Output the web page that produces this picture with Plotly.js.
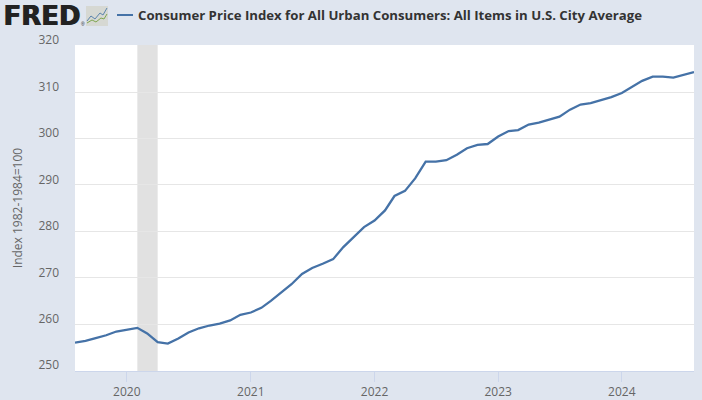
<!DOCTYPE html>
<html><head><meta charset="utf-8">
<script src="https://cdn.plot.ly/plotly-3.0.1.min.js"></script>
<style>html,body{margin:0;padding:0;background:#dfe5ef}#c{width:702px;height:400px}</style>
</head><body><div id="c"></div>
<script>
const seriesName = "Consumer Price Index for All Urban Consumers: All Items in U.S. City Average";
const yAxisTitle = "Index 1982-1984=100";
const recession = ["2020-02-01", "2020-04-01"];
const cpi2019 = [256.0,256.4,257.0,257.6,258.4];
const cpi2020 = [258.8,259.2,258.0,256.1,255.8,256.9,258.2,259.1,259.7,260.1,260.8,262.0];
const cpi2021 = [262.5,263.5,265.0,266.8,268.6,270.8,272.1,273.0,274.0,276.6,278.9,280.9];
const cpi2022 = [282.3,284.5,287.6,288.7,291.4,295.0,295.0,295.3,296.5,297.9,298.6,298.8];
const cpi2023 = [300.4,301.6,301.8,303.0,303.4,304.0,304.7,306.2,307.3,307.6,308.2,308.9];
const cpi2024 = [309.8,311.2,312.4,313.3,313.3,313.1,313.7,314.3];
const yTicks = [250,260,270,280,290,300,310,320];
const xTickVals = ["2020-01-01","2021-01-01","2022-01-01","2023-01-01","2024-01-01"];
const xTickText = ["2020","2021","2022","2023","2024"];

const values = [...cpi2019,...cpi2020,...cpi2021,...cpi2022,...cpi2023,...cpi2024];
const dates = values.map((_,i)=>{
  const m = 7+i; const y = 2019+Math.floor(m/12); const mm = String(m%12+1).padStart(2,"0");
  return y+"-"+mm+"-01";
});
const W=702,H=400,L=75,R=694,T=45,B=371;
const px=x=>(x-L)/(R-L), py=y=>(B-y)/(B-T);
const pathOf=pts=>pts.map((p,i)=>(i?"L":"M")+px(p[0]).toFixed(4)+","+py(p[1]).toFixed(4)).join(" ");
const deco=(pts,color,w)=>({type:"path",xref:"paper",yref:"paper",path:pathOf(pts),line:{color:color,width:w},layer:"above"});
const font="'Open Sans', sans-serif";

const shapes=[
 {type:"rect",xref:"x",yref:"paper",x0:recession[0],x1:recession[1],y0:0,y1:1,fillcolor:"#e1e1e1",line:{width:0},layer:"below"},
 {type:"rect",xref:"paper",yref:"paper",x0:px(86),x1:px(108),y0:py(26),y1:py(6),fillcolor:"#d6d8d3",line:{width:0},layer:"above"},
 deco([[87,21],[91,16],[95,19],[100,13],[103,15],[107,8]],"#5b84ad",1),
 deco([[87,23],[92,20],[96,22],[101,18],[104,19],[107,14]],"#7fa650",1),
 {type:"line",xref:"paper",yref:"paper",x0:px(117),x1:px(133),y0:py(15),y1:py(15),line:{color:"#4572a7",width:2},layer:"above"}
];
const annotations=[
 {xref:"paper",yref:"paper",x:px(1),y:py(16.5),xanchor:"left",yanchor:"middle",showarrow:false,
  text:"<b>FRED</b>",font:{family:"'DejaVu Sans', sans-serif",size:26,color:"#222222",shadow:"1px 0 0 #222222"}},
 {xref:"paper",yref:"paper",x:px(79),y:py(24),xanchor:"left",yanchor:"middle",showarrow:false,
  text:"®",font:{family:"'Liberation Sans', sans-serif",size:5,color:"#222222"}},
 {xref:"paper",yref:"paper",x:px(136),y:py(15),xanchor:"left",yanchor:"middle",showarrow:false,
  text:"<b>"+seriesName+"</b>",font:{family:font,size:13.2,color:"#333333"}}
];
Plotly.newPlot("c",[{
  type:"scatter",mode:"lines",name:seriesName,x:dates,y:values,
  line:{color:"#4572a7",width:2.3},hoverinfo:"x+y"
}],{
  width:W,height:H,paper_bgcolor:"#dfe5ef",plot_bgcolor:"#ffffff",
  margin:{l:L,r:W-R,t:T,b:H-B,pad:0},showlegend:false,
  font:{family:font,size:12,color:"#666666"},
  xaxis:{type:"date",range:[dates[0],dates[dates.length-1]],tickmode:"array",tickvals:xTickVals,ticktext:xTickText,
    showgrid:false,zeroline:false,showline:true,linecolor:"#ccd6eb",linewidth:1,ticks:"outside",ticklen:10,tickwidth:1,tickcolor:"#ccd6eb",
    tickfont:{family:font,size:12,color:"#666666"}},
  yaxis:{range:[249.9,320.13],tickmode:"array",tickvals:yTicks,ticktext:yTicks.map(String),
    showgrid:true,gridcolor:"#e6e6e6",gridwidth:1,zeroline:false,showline:false,ticks:"",
    ticklabelposition:"outside top",ticklabelstandoff:15,ticklabelshift:3,
    tickfont:{family:font,size:12,color:"#666666"},
    title:{text:yAxisTitle,font:{family:font,size:12,color:"#666666"},standoff:13}},
  shapes:shapes,annotations:annotations
},{displayModeBar:false,staticPlot:true});
</script></body></html>
